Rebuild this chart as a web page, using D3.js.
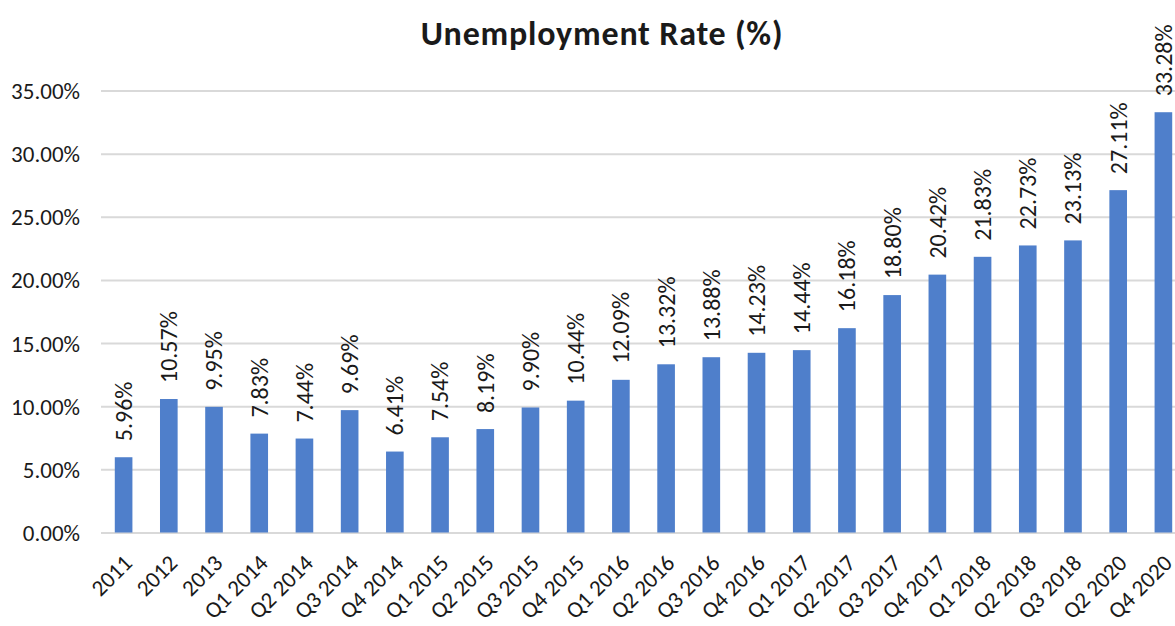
<!DOCTYPE html>
<html>
<head>
<meta charset="utf-8">
<script src="https://cdn.jsdelivr.net/npm/d3@7"></script>
<style>
  html, body { margin: 0; padding: 0; background: #ffffff; }
  svg { display: block; }
  text { font-family: Carlito, Calibri, Lato, "Open Sans", sans-serif; fill: #1a1a1a; }
</style>
</head>
<body>
<svg id="chart" width="1175" height="626"></svg>
<script>
// Unemployment rate by period
const periods = ["2011", "2012", "2013", "Q1 2014", "Q2 2014", "Q3 2014", "Q4 2014",
  "Q1 2015", "Q2 2015", "Q3 2015", "Q4 2015", "Q1 2016", "Q2 2016", "Q3 2016",
  "Q4 2016", "Q1 2017", "Q2 2017", "Q3 2017", "Q4 2017", "Q1 2018", "Q2 2018",
  "Q3 2018", "Q2 2020", "Q4 2020"];
const rates = [5.96, 10.57, 9.95, 7.83, 7.44, 9.69, 6.41, 7.54, 8.19, 9.90, 10.44,
  12.09, 13.32, 13.88, 14.23, 14.44, 16.18, 18.80, 20.42, 21.83, 22.73, 23.13,
  27.11, 33.28];
const yTicks = [0, 5, 10, 15, 20, 25, 30, 35];
const title = "Unemployment Rate (%)";

const svg = d3.select("#chart");
const plot = { left: 101, right: 1186, top: 90.5, bottom: 532.5 };

const x = d3.scaleBand()
  .domain(periods)
  .range([plot.left, plot.right])
  .paddingInner(0.61)
  .paddingOuter(0.305);

const y = d3.scaleLinear()
  .domain([0, 35])
  .range([plot.bottom, plot.top]);

// Horizontal gridlines with percentage labels
const yAxis = d3.axisLeft(y)
  .tickValues(yTicks)
  .tickSize(-(plot.right - plot.left))
  .tickPadding(21)
  .tickFormat(d => d.toFixed(2) + "%");

const gy = svg.append("g")
  .attr("transform", `translate(${plot.left},0)`)
  .call(yAxis);
gy.select(".domain").remove();
gy.selectAll(".tick line").attr("stroke", "#d9d9d9").attr("stroke-width", 2);
gy.selectAll(".tick text")
  .attr("font-size", 23)
  .attr("fill", "#1a1a1a")
  .attr("dy", "0.35em");

// Bars
svg.append("g")
  .selectAll("rect")
  .data(rates)
  .join("rect")
  .attr("x", (d, i) => x(periods[i]))
  .attr("width", x.bandwidth())
  .attr("y", d => y(d))
  .attr("height", d => y(0) - y(d))
  .attr("fill", "#4f7fcb");

// Value labels, rotated above each bar
svg.append("g")
  .selectAll("text")
  .data(rates)
  .join("text")
  .attr("transform", (d, i) =>
    `translate(${x(periods[i]) + x.bandwidth() / 2},${y(d) - 16}) rotate(-90)`)
  .attr("text-anchor", "start")
  .attr("dy", "0.35em")
  .attr("font-size", 24)
  .text(d => d.toFixed(2) + "%");

// Category axis labels, rotated 45 degrees
const xAxis = d3.axisBottom(x).tickSize(0).tickPadding(0);
const gx = svg.append("g")
  .attr("transform", `translate(0,${plot.bottom})`)
  .call(xAxis);
gx.select(".domain").remove();
gx.selectAll(".tick text")
  .attr("font-size", 23)
  .attr("fill", "#1a1a1a")
  .attr("text-anchor", "end")
  .attr("dy", null)
  .attr("y", 0)
  .attr("transform", "translate(10,32) rotate(-45)");

// Title
svg.append("text")
  .attr("x", 602)
  .attr("y", 45)
  .attr("text-anchor", "middle")
  .attr("font-size", 34)
  .attr("font-weight", "bold")
  .attr("letter-spacing", 0.8)
  .attr("fill", "#000")
  .text(title);
</script>
</body>
</html>
